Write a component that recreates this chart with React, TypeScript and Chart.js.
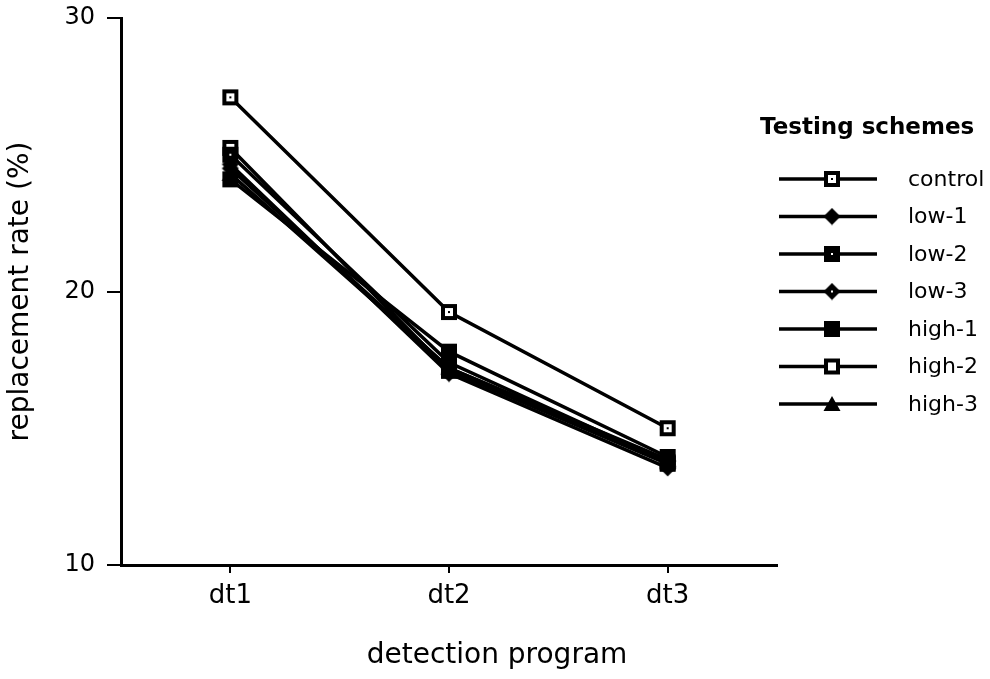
import { useEffect, useRef } from "react";
import { Chart, registerables } from "chart.js";

Chart.register(...registerables);

const categories = ["dt1", "dt2", "dt3"];
const seriesNames = ["control", "low-1", "low-2", "low-3", "high-1", "high-2", "high-3"];
const control = [27.1, 19.25, 15.0];
const low1 = [24.5, 17.2, 13.8];
const low2 = [25.0, 17.4, 13.75];
const low3 = [24.65, 17.0, 13.55];
const high1 = [24.1, 17.8, 13.95];
const high2 = [25.25, 17.1, 13.7];
const high3 = [24.3, 17.2, 13.85];
const seriesValues = [control, low1, low2, low3, high1, high2, high3];
const markerKinds = ["dotSquare", "diamond", "pinSquare", "dotDiamond", "square", "openSquare", "triangle"];
const yTicks = [10, 20, 30];
const xTitle = "detection program";
const yTitle = "replacement rate (%)";
const legendTitle = "Testing schemes";

const FONT = "'DejaVu Sans', 'Liberation Sans', sans-serif";

function makeMarker(kind: string): HTMLCanvasElement {
  const c = document.createElement("canvas");
  c.width = 18;
  c.height = 18;
  const g = c.getContext("2d")!;
  g.fillStyle = "#000";
  const diamond = () => {
    g.beginPath();
    g.moveTo(9, 0.5);
    g.lineTo(17.5, 9);
    g.lineTo(9, 17.5);
    g.lineTo(0.5, 9);
    g.closePath();
    g.fill();
  };
  switch (kind) {
    case "dotSquare":
      g.fillRect(1, 1, 16, 16);
      g.fillStyle = "#fff";
      g.fillRect(5, 5, 8, 8);
      g.fillStyle = "#000";
      g.fillRect(8, 8, 2, 2);
      break;
    case "diamond":
      diamond();
      break;
    case "pinSquare":
      g.fillRect(1, 1, 16, 16);
      g.fillStyle = "#fff";
      g.fillRect(8, 8, 2, 2);
      break;
    case "dotDiamond":
      diamond();
      g.fillStyle = "#fff";
      g.fillRect(8, 8, 2, 2);
      break;
    case "square":
      g.fillRect(1, 1, 16, 16);
      break;
    case "openSquare":
      g.fillRect(1, 1, 16, 16);
      g.fillStyle = "#fff";
      g.fillRect(5, 5, 8, 8);
      break;
    case "triangle":
      g.beginPath();
      g.moveTo(9, 1);
      g.lineTo(17.5, 16);
      g.lineTo(0.5, 16);
      g.closePath();
      g.fill();
      break;
  }
  return c;
}

const legendPlugin = {
  id: "schemesLegend",
  afterDraw(chart: any) {
    const ctx: CanvasRenderingContext2D = chart.ctx;
    const area = chart.chartArea;
    const x0 = area.right + 2;
    ctx.save();
    ctx.fillStyle = "#000";
    ctx.textBaseline = "middle";
    ctx.textAlign = "left";
    ctx.font = `bold 23px ${FONT}`;
    ctx.fillText(legendTitle, x0 - 19, 128);
    chart.data.datasets.forEach((ds: any, i: number) => {
      const y = 179 + i * 37.5;
      ctx.strokeStyle = "#000";
      ctx.lineWidth = 3.5;
      ctx.beginPath();
      ctx.moveTo(x0, y);
      ctx.lineTo(x0 + 98, y);
      ctx.stroke();
      const img = ds.pointStyle as HTMLCanvasElement;
      ctx.drawImage(img, x0 + 53 - img.width / 2, y - img.height / 2);
      ctx.font = `22px ${FONT}`;
      ctx.fillText(ds.label, x0 + 129, y + 1);
    });
    // x axis title, placed as in the reference (right of the plot centre)
    ctx.textAlign = "center";
    ctx.font = `28px ${FONT}`;
    ctx.fillText(xTitle, 497, 656);
    ctx.restore();
  },
};

export default function App() {
  const ref = useRef<HTMLCanvasElement>(null);
  useEffect(() => {
    document.body.style.margin = "0";
    const canvas = ref.current!;
    const chart = new Chart(canvas, {
      type: "line",
      data: {
        labels: categories,
        datasets: seriesNames.map((name, i) => ({
          label: name,
          data: seriesValues[i],
          borderColor: "#000",
          borderWidth: 3.5,
          pointStyle: makeMarker(markerKinds[i]) as any,
          pointRadius: 9,
          pointHoverRadius: 9,
          tension: 0,
          fill: false,
        })),
      },
      options: {
        animation: false,
        responsive: false,
        events: [],
        layout: { padding: { top: 18, right: 213, left: 0, bottom: 0 } },
        plugins: {
          legend: { display: false },
          tooltip: { enabled: false },
        },
        scales: {
          x: {
            type: "category",
            offset: true,
            grid: {
              display: true,
              drawOnChartArea: false,
              drawTicks: true,
              tickLength: 8,
              color: "#000",
              lineWidth: 2,
            },
            border: { display: true, color: "#000", width: 3 },
            ticks: { color: "#000", font: { family: FONT, size: 26 }, padding: 8 },
            title: { display: false, text: xTitle },
            afterFit: (s: any) => {
              s.height = 114;
              s.paddingLeft = 0;
              s.paddingRight = 0;
            },
          },
          y: {
            type: "linear",
            min: 10,
            max: 30,
            afterBuildTicks: (s: any) => {
              s.ticks = yTicks.map((v) => ({ value: v }));
            },
            grid: {
              display: true,
              drawOnChartArea: false,
              drawTicks: true,
              tickLength: 14,
              color: "#000",
              lineWidth: 2,
            },
            border: { display: true, color: "#000", width: 3 },
            ticks: { color: "#000", font: { family: FONT, size: 24 }, padding: 12 },
            title: {
              display: true,
              text: yTitle,
              color: "#000",
              font: { family: FONT, size: 28 },
              padding: { top: 4, bottom: 0 },
            },
            afterFit: (s: any) => {
              s.width = 121;
              s.paddingTop = 0;
              s.paddingBottom = 0;
            },
          },
        },
      },
      plugins: [legendPlugin],
    });
    return () => chart.destroy();
  }, []);
  return (
    <div style={{ width: 990, height: 679 }}>
      <canvas ref={ref} width={990} height={679} />
    </div>
  );
}
